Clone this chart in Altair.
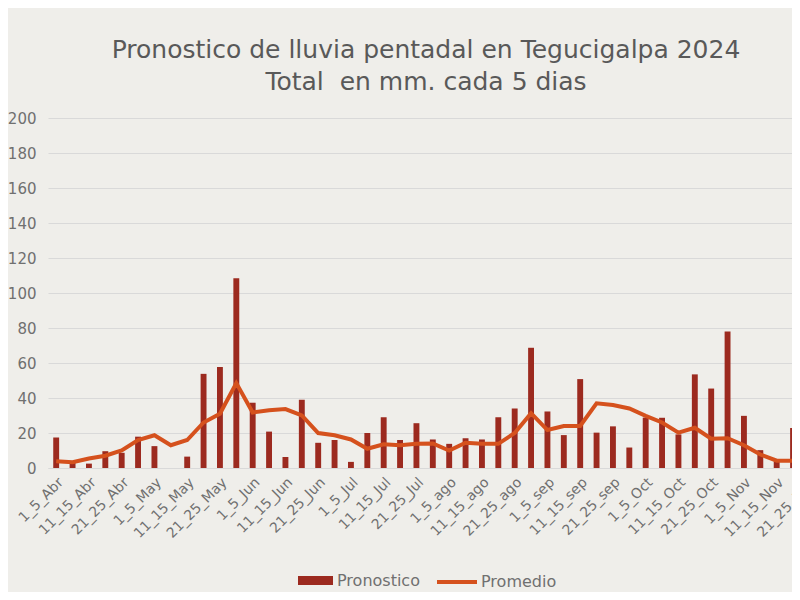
import altair as alt
import pandas as pd

months = ["Abr", "May", "Jun", "Jul", "ago", "sep", "Oct", "Nov"]
month_days = [30, 31, 30, 31, 31, 30, 31, 30]
pentads_30 = ["1_5", "6_10", "11_15", "16_20", "21_25", "26_30"]
pentads_31 = ["1_5", "6_10", "11_15", "16_20", "21_25", "26_31"]

categories = []
for m, d in zip(months, month_days):
    for p in (pentads_31 if d == 31 else pentads_30):
        categories.append(f"{p}_{m}")

pronostico = [17.5, 3, 2.5, 9.6, 8.7, 17.9, 12.5, 0, 6.5, 53.8, 57.7, 108.5,
              37.3, 20.8, 6.3, 39, 14.4, 16, 3.5, 20, 29, 16, 25.6, 16.3,
              13.8, 17, 16.3, 29, 34, 68.7, 32.3, 18.8, 50.8, 20.2, 23.8, 11.7,
              28.8, 28.7, 19.2, 53.5, 45.4, 78, 29.8, 10.2, 3.8, 22.9, 5, 3]
promedio = [3.8, 3.3, 5.4, 7, 10, 16, 18.7, 13, 16, 26, 31, 48.5,
            31.7, 33, 33.7, 30, 20, 18.7, 16.3, 11, 13.5, 13, 13.8, 14,
            10, 14.4, 13.8, 13.8, 20, 31.3, 21.7, 24, 24, 37, 36, 34,
            29.8, 26, 20.2, 23, 16.7, 17, 13, 7.7, 4.2, 4.2, 4.5, 5]

shown_labels = categories[::2]
y_ticks = list(range(0, 201, 20))

df = pd.DataFrame({
    "cat": categories,
    "pron": pronostico,
    "prom": promedio,
    "s1": ["Pronostico"] * len(categories),
    "s2": ["Promedio"] * len(categories),
})

FONT = "DejaVu Sans"
TEXT = "#707070"
BAR = "#9c2a1f"
LINE = "#d5511d"

x = alt.X("cat:N", sort=categories, title=None,
          scale=alt.Scale(range=[0, 786], paddingInner=0.64, paddingOuter=0.32),
          axis=alt.Axis(values=shown_labels, labelAngle=-45, labelAlign="right",
                        labelBaseline="top", labelPadding=7, ticks=False,
                        domain=True, domainColor="#d9d9d9", labelFontSize=14,
                        labelColor=TEXT, labelFont=FONT, grid=False,
                        labelOverlap=False))

y_axis = alt.Axis(values=y_ticks, tickCount=len(y_ticks), grid=True,
                  gridColor="#d9d9d9", gridWidth=1, domain=False,
                  ticks=False, labelPadding=12, labelFontSize=15,
                  labelColor=TEXT, labelFont=FONT, labelOverlap=False)
y_scale = alt.Scale(domain=[0, 200], nice=False)

bars = alt.Chart(df).mark_bar(clip=False).encode(
    x=x,
    y=alt.Y("pron:Q", title=None, scale=y_scale, axis=y_axis),
    color=alt.Color("s1:N", scale=alt.Scale(domain=["Pronostico"], range=[BAR]),
                    legend=alt.Legend(title=None, orient="none", legendX=250,
                                      legendY=445,
                                      symbolType="M-1,-0.26H1V0.26H-1Z",
                                      symbolSize=1225, symbolStrokeWidth=0,
                                      labelFontSize=16, labelColor=TEXT,
                                      labelFont=FONT, labelOffset=4)),
)

line = alt.Chart(df).mark_line(strokeWidth=4, clip=False).encode(
    x=x,
    y=alt.Y("prom:Q", title=None, scale=y_scale, axis=y_axis),
    stroke=alt.Stroke("s2:N", scale=alt.Scale(domain=["Promedio"], range=[LINE]),
                      legend=alt.Legend(title=None, orient="none", legendX=387,
                                        legendY=442, symbolType="stroke",
                                        symbolSize=1600, symbolStrokeWidth=4,
                                        labelFontSize=16, labelColor=TEXT,
                                        labelFont=FONT, labelOffset=2)),
)

chart = alt.layer(bars, line).resolve_scale(color="independent").properties(
    width=744,
    height=350,
    autosize=alt.AutoSizeParams(type="none"),
    padding={"left": 40, "top": 110, "right": 0, "bottom": 124},
    title=alt.TitleParams(
        text=["Pronostico de lluvia pentadal en Tegucigalpa 2024",
              "Total \u00a0en mm. cada 5 dias"],
        font=FONT, fontSize=25, fontWeight="normal", color="#595959",
        anchor="middle", offset=16, lineHeight=32, dx=6,
    ),
).configure(background="#efeeea").configure_view(stroke=None)

chart.save("out.html", embed_options={"renderer": "svg", "actions": False})
